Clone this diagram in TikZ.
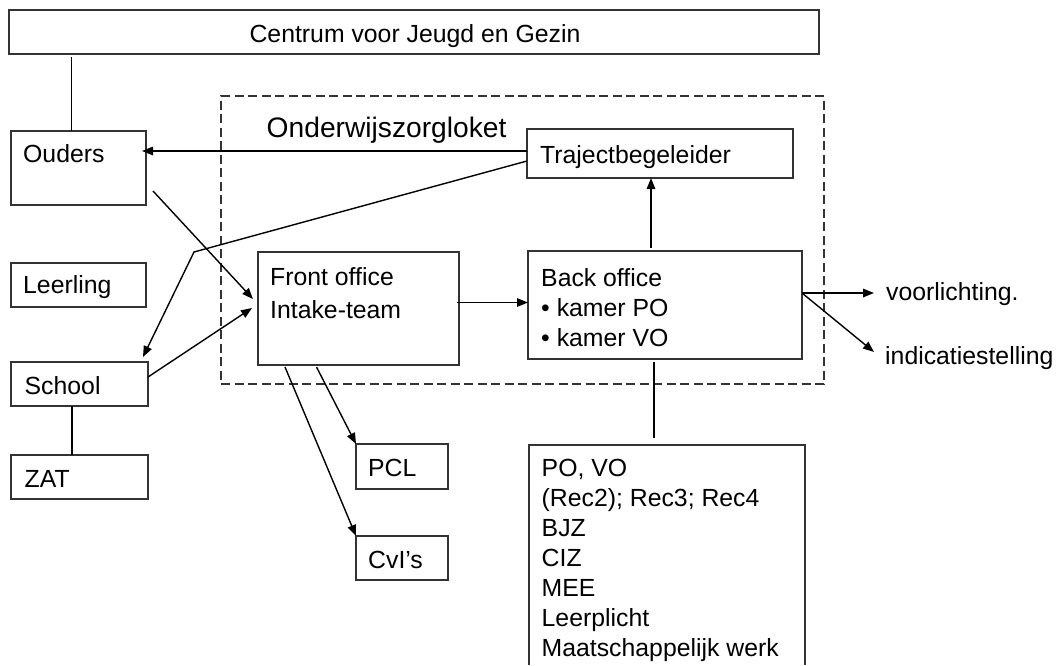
\documentclass[tikz,border=0pt]{standalone}
\usepackage{fontspec}
\setmainfont{Liberation Sans}
\usetikzlibrary{arrows.meta}
\begin{document}
\begin{tikzpicture}[x=1pt,y=-1pt,
  box/.style={draw=black!80, line width=1.4pt, anchor=north west, inner sep=0pt, outer sep=0pt},
  dashbox/.style={draw=black!80, line width=1.3pt, dash pattern=on 9pt off 4.5pt, anchor=north west, inner sep=0pt, outer sep=0pt},
  txt/.style={anchor=base west, inner sep=0pt, font=\fontsize{24.8}{29.5}\selectfont},
  conn/.style={line width=1.4pt, draw=black},
  arr/.style={conn, -{Triangle[length=11pt,width=8.5pt]}},
  ]
\useasboundingbox (0,0) rectangle (1056,665);
\fill[white] (0,0) rectangle (1056,665);
% boxes
\node[dashbox, minimum width=603pt, minimum height=288pt] (loket) at (221,96) {};
\node[box, minimum width=810pt, minimum height=44pt] (cjg) at (9,10) {};
\node[box, minimum width=135pt, minimum height=74pt] (ouders) at (11,131) {};
\node[box, minimum width=135pt, minimum height=44pt] (leerling) at (11,263) {};
\node[box, minimum width=137pt, minimum height=44pt] (school) at (11,362) {};
\node[box, minimum width=137pt, minimum height=44pt] (zat) at (11,455) {};
\node[box, minimum width=266pt, minimum height=49pt] (traject) at (527,129) {};
\node[box, minimum width=201pt, minimum height=113pt] (front) at (258,252) {};
\node[box, minimum width=274pt, minimum height=108pt] (back) at (528,251) {};
\node[box, minimum width=92pt, minimum height=45pt] (pcl) at (356,444) {};
\node[box, minimum width=92pt, minimum height=44pt] (cvi) at (356,536) {};
\node[anchor=north west, inner sep=0pt, outer sep=0pt, minimum width=276pt, minimum height=220pt] (pool) at (529,445) {};
\draw[draw=black!80, line width=1.4pt] (pool.south west) -- (pool.north west) -- (pool.north east) -- (pool.south east);
% texts
\node[txt, anchor=base] (cjgT) at (415,42) {Centrum voor Jeugd en Gezin};
\node[txt, font=\fontsize{28.2}{34}\selectfont] (loketT) at (266.5,137) {Onderwijszorgloket};
\node[txt] (oudersT) at (23,162) {Ouders};
\node[txt] (leerlingT) at (23,293) {Leerling};
\node[txt] (schoolT) at (24.5,394) {School};
\node[txt] (zatT) at (24.5,487) {ZAT};
\node[txt] (trajectT) at (540,163) {Trajectbegeleider};
\node[txt] (frontT1) at (270,285) {Front office};
\node[txt] (frontT2) at (270,318) {Intake-team};
\node[txt] (backT1) at (541,286) {Back office};
\node[txt] (backT2) at (541,316) {• kamer PO};
\node[txt] (backT3) at (541,346) {• kamer VO};
\node[txt] (voorl) at (886,300) {voorlichting.};
\node[txt] (indic) at (885,364) {indicatiestelling};
\node[txt] (pclT) at (368,476) {PCL};
\node[txt] (cviT) at (368,568) {CvI’s};
\node[txt] (poolT1) at (541.5,476) {PO, VO};
\node[txt] (poolT2) at (541.5,506) {(Rec2); Rec3; Rec4};
\node[txt] (poolT3) at (541.5,536) {BJZ};
\node[txt] (poolT4) at (541.5,566) {CIZ};
\node[txt] (poolT5) at (541.5,596) {MEE};
\node[txt] (poolT6) at (541.5,626) {Leerplicht};
\node[txt] (poolT7) at (541.5,656) {Maatschappelijk werk};
% connectors
\coordinate (bend) at (194,252);
\draw[conn, shorten >=3pt] ([xshift=-7pt]ouders.north) -- ([xshift=-7pt]ouders.north |- cjg.south);
\draw[conn] ([xshift=-7.5pt]school.south) -- ([xshift=-7.5pt]school.south |- zat.north);
\draw[arr, shorten >=-4pt] ([yshift=2.5pt]traject.west) -- ([yshift=2.5pt]traject.west -| ouders.east);
\draw[arr] ([yshift=-7.5pt]traject.west) -- (bend) -- ([xshift=-5pt,yshift=5pt]school.north east);
\draw[arr] ([xshift=7pt,yshift=14pt]ouders.south east) -- ([xshift=-5pt,yshift=9.5pt]front.west);
\draw[arr] ([yshift=7pt]school.east) -- ([xshift=-6pt,yshift=0.5pt]front.west);
\draw[arr] ([xshift=-2pt,yshift=6pt]front.east) -- ([yshift=6pt]front.east -| back.west);
\draw[arr] ([xshift=-14pt,yshift=3pt]back.north) -- ([xshift=-14pt]back.north |- traject.south);
\draw[arr, shorten >=12pt] ([yshift=12pt]back.east) -- ([yshift=12pt]back.east -| voorl.west);
\draw[arr] ([yshift=12pt]back.east) -- ([xshift=-11pt,yshift=5.6pt]indic.west);
\draw[conn, shorten >=7pt] ([xshift=-11pt,yshift=-3pt]back.south) -- ([xshift=-11pt]back.south |- pool.north);
\draw[arr] ([xshift=-42pt,yshift=-2pt]front.south) -- (pcl.north west);
\draw[arr] ([xshift=-73.5pt,yshift=-2pt]front.south) -- (cvi.north west);
\end{tikzpicture}
\end{document}
